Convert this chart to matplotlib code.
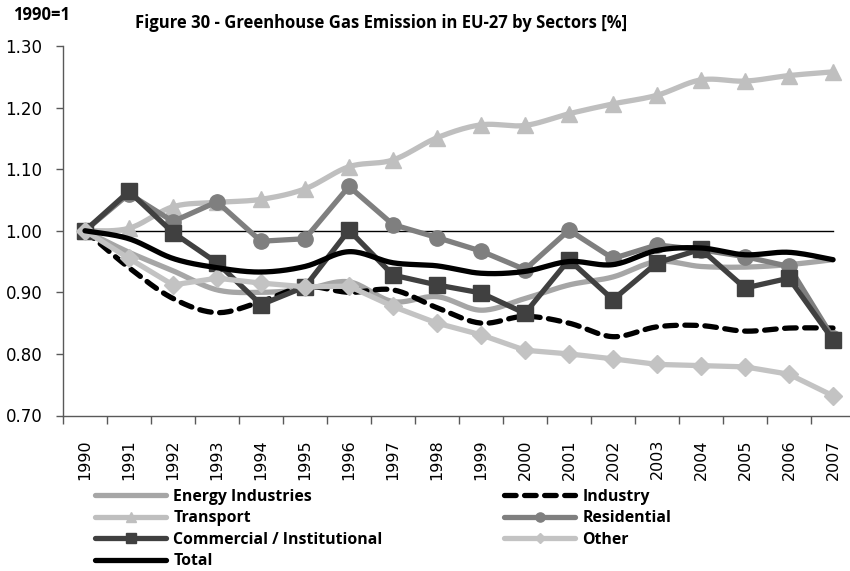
import numpy as np
import matplotlib
matplotlib.use("Agg")
import matplotlib.pyplot as plt
from matplotlib.lines import Line2D

years = [str(y) for y in range(1990, 2008)]
energy = [1.00, 0.965, 0.935, 0.904, 0.900, 0.905, 0.917, 0.885, 0.893, 0.871,
          0.890, 0.912, 0.925, 0.950, 0.942, 0.941, 0.945, 0.953]
industry = [1.00, 0.940, 0.890, 0.867, 0.885, 0.909, 0.900, 0.904, 0.875, 0.850,
            0.861, 0.850, 0.828, 0.844, 0.846, 0.837, 0.842, 0.842]
transport = [1.00, 1.004, 1.039, 1.046, 1.051, 1.068, 1.104, 1.115, 1.151, 1.172,
             1.171, 1.190, 1.206, 1.220, 1.245, 1.243, 1.252, 1.258]
residential = [1.00, 1.060, 1.015, 1.047, 0.983, 0.987, 1.072, 1.010, 0.989, 0.967,
               0.937, 1.001, 0.955, 0.977, 0.969, 0.958, 0.942, 0.826]
commercial = [1.00, 1.064, 0.997, 0.948, 0.880, 0.909, 1.001, 0.928, 0.912, 0.899,
              0.866, 0.953, 0.888, 0.948, 0.970, 0.907, 0.923, 0.823]
other = [1.00, 0.955, 0.912, 0.923, 0.915, 0.909, 0.910, 0.877, 0.850, 0.831,
         0.806, 0.800, 0.792, 0.783, 0.781, 0.779, 0.767, 0.732]
total = [1.00, 0.987, 0.955, 0.940, 0.933, 0.942, 0.966, 0.948, 0.943, 0.931,
         0.934, 0.950, 0.945, 0.968, 0.972, 0.961, 0.965, 0.953]
baseline = 1.0

y_ticks = [0.70, 0.80, 0.90, 1.00, 1.10, 1.20, 1.30]
title = "Figure 30 - Greenhouse Gas Emission in EU-27 by Sectors [%]"
unit_label = "1990=1"

W, H = 850, 571
fig = plt.figure(figsize=(W / 100, H / 100), dpi=100)
left_px, right_px, top_px, bot_px = 63, 855, 46, 415.5
ax = fig.add_axes([left_px / W, (H - bot_px) / H, (right_px - left_px) / W, (bot_px - top_px) / H])
n = len(years)
x = np.arange(n)
ax.set_xlim(-0.5, n - 0.5)
ax.set_ylim(0.70, 1.30)

sx = (right_px - left_px) / n
sy = (bot_px - top_px) / 0.6


def smooth(xs, ys, steps=20):
    px = np.asarray(xs, float) * sx
    py = np.asarray(ys, float) * sy
    P = np.column_stack([px, py])
    P = np.vstack([P[0], P, P[-1]])
    out = []
    for i in range(1, len(P) - 2):
        p0, p1, p2, p3 = P[i - 1], P[i], P[i + 1], P[i + 2]
        c1 = p1 + (p2 - p0) / 6.0
        c2 = p2 - (p3 - p1) / 6.0
        t = np.linspace(0, 1, steps)[:, None]
        b = ((1 - t) ** 3) * p1 + 3 * ((1 - t) ** 2) * t * c1 + 3 * (1 - t) * t ** 2 * c2 + t ** 3 * p2
        out.append(b if i == 1 else b[1:])
    out = np.vstack(out)
    return out[:, 0] / sx, out[:, 1] / sy


# name, values, color, linestyle, marker, markersize, smoothed
series = [
    ("Energy Industries", energy, "#A6A6A6", "-", None, 0, True),
    ("Industry", industry, "black", (0, (2.2, 1.6)), None, 0, True),
    ("Transport", transport, "#BFBFBF", "-", "^", 11, True),
    ("Residential", residential, "#7F7F7F", "-", "o", 11, False),
    ("Commercial / Institutional", commercial, "#404040", "-", "s", 11, False),
    ("Other", other, "#C3C3C3", "-", "D", 9, False),
    ("Total", total, "black", "-", None, 0, True),
]
LW = 3.8

ax.plot(x, [baseline] * n, color="black", lw=1.0, zorder=2)

handles = {}
for i, (name, vals, col, ls, mk, ms, sm) in enumerate(series):
    if sm:
        xs, ys = smooth(x, vals)
    else:
        xs, ys = x, vals
    ax.plot(xs, ys, color=col, lw=LW, ls=ls, solid_capstyle="round", solid_joinstyle="round",
            dash_capstyle="round", zorder=3 + i)
    if mk:
        ax.plot(x, vals, ls="none", marker=mk, ms=ms, color=col, mec=col, zorder=3 + i)
    handles[name] = Line2D([], [], color=col, lw=LW, ls=ls,
                           solid_capstyle="round", dash_capstyle="round",
                           marker=mk if mk else None, ms=ms * 0.6)

ax.set_yticks(y_ticks)
ax.set_yticklabels([f"{v:.2f}" for v in y_ticks], fontsize=12)
ax.set_xticks(x)
ax.set_xticklabels(years, rotation=90, fontsize=11.5)
ax.set_xticks(np.arange(n + 1) - 0.5, minor=True)
ax.tick_params(axis="x", which="major", length=0, pad=17)
ax.tick_params(axis="x", which="minor", length=6, width=1, color="#595959", direction="out")
ax.tick_params(axis="y", length=5, width=1, color="#595959", direction="out", pad=10)
for s in ["top", "right"]:
    ax.spines[s].set_visible(False)
for s in ["left", "bottom"]:
    ax.spines[s].set_color("#595959")
    ax.spines[s].set_linewidth(1)

fig.text(13 / W, 1 - 15 / H, unit_label, fontsize=12, fontweight="bold", va="center", ha="left",
         family="Open Sans")
fig.text(135 / W, 1 - 23 / H, title, fontsize=12, fontweight="bold", va="center", ha="left",
         family="Open Sans")

prop = dict(family="Open Sans", weight="bold", size=11.4)
order1 = ["Energy Industries", "Transport", "Commercial / Institutional", "Total"]
order2 = ["Industry", "Residential", "Other"]
common = dict(loc="upper left", frameon=False, handlelength=4.5, handletextpad=0.45,
              labelspacing=0.34, borderpad=0, borderaxespad=0, prop=prop)
leg1 = fig.legend([handles[k] for k in order1], order1,
                  bbox_to_anchor=(95 / W, 1 - 489 / H), **common)
leg2 = fig.legend([handles[k] for k in order2], order2,
                  bbox_to_anchor=(504 / W, 1 - 489 / H), **common)

fig.savefig("out.png", dpi=100)
